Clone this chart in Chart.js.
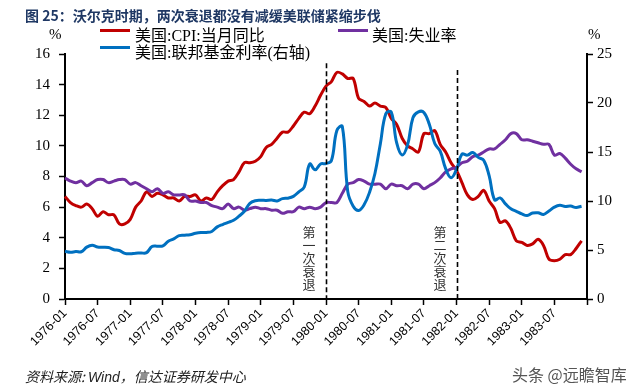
<!DOCTYPE html>
<html><head><meta charset="utf-8">
<script src="https://cdn.jsdelivr.net/npm/chart.js@4"></script>
<style>
html,body{margin:0;padding:0;background:#fff;}
#wrap{position:relative;width:640px;height:391px;overflow:hidden;background:#fff;}
#c{position:absolute;left:0;top:0;width:640px;height:391px;}
.t{position:absolute;white-space:nowrap;line-height:1;}
#title{left:25px;top:5px;font:bold 14px "Noto Sans CJK SC",sans-serif;color:#1F3864;}
.lg{font:16px "Liberation Serif","Noto Sans CJK SC",serif;color:#000;}
.ln{position:absolute;width:30px;height:3px;}
.unit{font:15px "Liberation Serif",serif;color:#000;}
#src{left:25px;top:366px;font:italic 14px "Noto Sans CJK SC","Liberation Sans",sans-serif;color:#222;}
#src b{font:italic 14px "Liberation Sans",sans-serif;font-weight:normal;}
#wm{left:512px;top:362px;font:16px "Noto Sans CJK SC",sans-serif;color:#555;}
.ann{position:absolute;writing-mode:vertical-rl;font:13px "Noto Sans CJK SC",serif;color:#333;line-height:14px;letter-spacing:0;}
</style></head><body>
<div id="wrap">
<canvas id="c" width="640" height="391"></canvas>
<div class="t" id="title">图 25：沃尔克时期，两次衰退都没有减缓美联储紧缩步伐</div>
<div class="ln" style="left:100px;top:29px;background:#C00000"></div>
<div class="t lg" style="left:135px;top:22px">美国:CPI:当月同比</div>
<div class="ln" style="left:338px;top:29px;background:#7030A0"></div>
<div class="t lg" style="left:372px;top:22px">美国:失业率</div>
<div class="ln" style="left:100px;top:46px;background:#0070C0"></div>
<div class="t lg" style="left:135px;top:39px">美国:联邦基金利率(右轴)</div>
<div class="t unit" style="left:49px;top:26px">%</div>
<div class="t unit" style="left:588px;top:26px">%</div>
<div class="t" id="src">资料来源: <b>Wind</b>，信达证券研发中心</div>
<div class="t" id="wm">头条 @远瞻智库</div>
<div class="ann" id="ann0">第一次衰退</div>
<div class="ann" id="ann1">第二次衰退</div>
</div>
<script>
// Month categories 1976-01 .. 1984-01
const years = [1976,1977,1978,1979,1980,1981,1982,1983];
const months = ['01','02','03','04','05','06','07','08','09','10','11','12'];
const categories = [];
years.forEach(y => months.forEach(m => categories.push(y + '-' + m)));
categories.push('1984-01');

const tickLabels = ['1976-01','1976-07','1977-01','1977-07','1978-01','1978-07','1979-01','1979-07',
  '1980-01','1980-07','1981-01','1981-07','1982-01','1982-07','1983-01','1983-07'];

// 美国:CPI:当月同比 (%)
const cpi = [
6.7,6.3,6.1,6.0,6.2,5.9,5.4,5.7,5.5,5.5,4.9,4.9,
5.2,6.0,6.4,7.0,6.7,6.9,6.8,6.6,6.6,6.4,6.7,6.7,
6.8,6.4,6.6,6.5,7.0,7.4,7.7,7.8,8.3,8.9,8.9,9.0,
9.3,9.9,10.1,10.5,10.9,10.9,11.3,11.8,12.2,12.1,12.6,13.3,
13.9,14.2,14.8,14.7,14.4,14.4,13.1,12.9,12.6,12.8,12.6,12.5,
11.8,11.4,10.5,10.0,9.8,9.6,10.8,10.8,11.0,10.1,9.6,8.9,
8.4,7.6,6.8,6.5,6.7,7.1,6.4,5.9,5.0,5.1,4.6,3.8,
3.7,3.5,3.6,3.9,3.5,2.6,2.5,2.6,2.9,2.9,3.3,3.8];

// 美国:失业率 (%)
const unemployment = [
7.9,7.7,7.6,7.7,7.4,7.6,7.8,7.8,7.6,7.7,7.8,7.8,
7.5,7.6,7.4,7.2,7.0,7.2,6.9,7.0,6.8,6.8,6.8,6.4,
6.4,6.3,6.3,6.1,6.0,5.9,6.2,5.9,6.0,5.8,5.9,6.0,
5.9,5.9,5.8,5.8,5.6,5.7,5.7,6.0,5.9,6.0,5.9,6.0,
6.3,6.3,6.3,6.9,7.5,7.6,7.8,7.7,7.5,7.5,7.5,7.2,
7.5,7.4,7.4,7.2,7.5,7.5,7.2,7.4,7.6,7.9,8.3,8.5,
8.6,8.9,9.0,9.3,9.4,9.6,9.8,9.8,10.1,10.4,10.8,10.8,
10.4,10.4,10.3,10.2,10.1,10.1,9.4,9.5,9.2,8.8,8.5,8.3];

// 美国:联邦基金利率 (%), right axis
const fedFunds = [
4.87,4.77,4.84,4.82,5.29,5.48,5.31,5.29,5.25,5.02,4.95,4.65,
4.61,4.68,4.69,4.73,5.35,5.39,5.42,5.90,6.14,6.47,6.51,6.56,
6.70,6.78,6.79,6.89,7.36,7.60,7.81,8.04,8.45,8.96,9.76,10.03,
10.07,10.06,10.09,10.01,10.24,10.29,10.47,10.94,11.43,13.77,13.18,13.78,
13.82,14.13,17.19,17.61,10.98,9.47,9.03,9.61,10.87,12.81,15.85,18.90,
19.08,15.93,14.70,15.72,18.52,19.10,19.04,17.82,15.87,15.08,13.31,12.37,
13.22,14.78,14.68,14.94,14.45,14.15,12.59,10.12,10.31,9.71,9.20,8.95,
8.68,8.51,8.77,8.80,8.63,8.98,9.37,9.56,9.45,9.48,9.34,9.47];

const recessionStarts = ['1980-01','1982-01'];
const recessionTop = [15.4, 14.95];

const recessionPlugin = {
  id: 'recessions',
  afterDatasetsDraw(chart) {
    const {ctx, scales:{x, y}, chartArea} = chart;
    ctx.save();
    ctx.strokeStyle = '#000';
    ctx.lineWidth = 1.6;
    ctx.setLineDash([5,3]);
    recessionStarts.forEach((lab, i) => {
      const px = Math.round(x.getPixelForValue(categories.indexOf(lab))) + 0.5;
      ctx.beginPath();
      ctx.moveTo(px, y.getPixelForValue(recessionTop[i]));
      ctx.lineTo(px, chartArea.bottom);
      ctx.stroke();
      const el = document.getElementById('ann' + i);
      el.style.left = (px - 25) + 'px';
      el.style.top = (chartArea.bottom - 73) + 'px';
    });
    ctx.restore();
  }
};

const axisGrid = {display:true, drawOnChartArea:false, drawTicks:true, tickLength:6, color:'#000', tickColor:'#000', tickWidth:1.5};

new Chart(document.getElementById('c'), {
  type: 'line',
  data: {
    labels: categories,
    datasets: [
      {label:'美国:CPI:当月同比', data: cpi, yAxisID:'y', borderColor:'#C00000', borderWidth:3, pointRadius:0, tension:0.35, order:2},
      {label:'美国:失业率', data: unemployment, yAxisID:'y', borderColor:'#7030A0', borderWidth:3, pointRadius:0, tension:0.35, order:1},
      {label:'美国:联邦基金利率(右轴)', data: fedFunds, yAxisID:'y1', borderColor:'#0070C0', borderWidth:3, pointRadius:0, tension:0.4, order:0}
    ]
  },
  options: {
    responsive:false, animation:false, devicePixelRatio:1,
    layout:{padding:{top:54, left:0, right:0, bottom:0}},
    plugins:{legend:{display:false}, tooltip:{enabled:false}, title:{display:false}},
    scales:{
      x:{
        type:'category', offset:false,
        border:{display:true, color:'#000', width:2},
        grid:Object.assign({}, axisGrid, {tickColor: c => (c.index % 6 === 0 ? '#000' : 'rgba(0,0,0,0)')}),
        ticks:{autoSkip:false, minRotation:45, maxRotation:45, padding:1, color:'#000',
          font:{family:'"Liberation Sans", Arial, sans-serif', size:12.5},
          callback:(v,i) => (i % 6 === 0 && tickLabels.includes(categories[i])) ? categories[i] : ''},
        afterFit: s => { s.height = 92; }
      },
      y:{
        position:'left', min:0, max:16,
        border:{display:true, color:'#000', width:2},
        grid:axisGrid,
        ticks:{stepSize:2, padding:9, color:'#000', font:{family:'"Liberation Serif", serif', size:15}},
        afterFit: s => { s.width = 65; }
      },
      y1:{
        position:'right', min:0, max:25,
        border:{display:true, color:'#000', width:2},
        grid:axisGrid,
        ticks:{stepSize:5, padding:4, color:'#000', font:{family:'"Liberation Serif", serif', size:15}},
        afterFit: s => { s.width = 53; }
      }
    }
  },
  plugins:[recessionPlugin]
});
</script>
</body></html>
